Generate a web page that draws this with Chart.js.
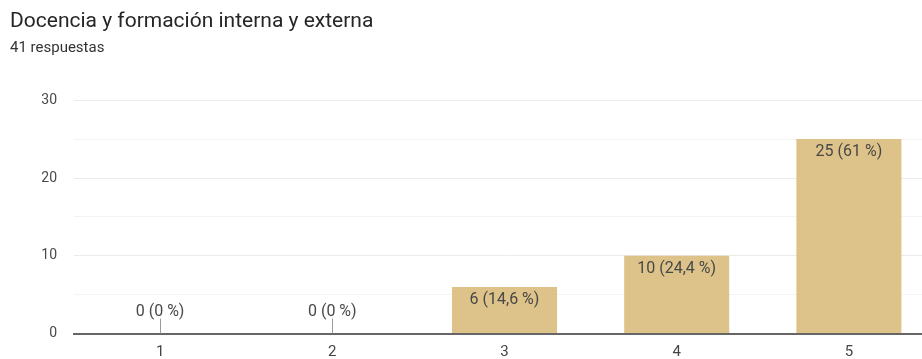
<!DOCTYPE html>
<html lang="es">
<head>
<meta charset="utf-8">
<title>Docencia y formación interna y externa</title>
<script src="https://cdn.jsdelivr.net/npm/chart.js@4/dist/chart.umd.min.js"></script>
<style>
  html, body { margin: 0; padding: 0; background: #fff; overflow: hidden; }
  #wrap { position: absolute; left: 0; top: 0; width: 936px; height: 359px; }
</style>
</head>
<body>
<div id="wrap"><canvas id="chart" width="936" height="359"></canvas></div>
<script>
// Survey question and answer counts
const chartTitle = 'Docencia y formación interna y externa';
const responseCount = 41;
const categories = ['1', '2', '3', '4', '5'];
const answers = [0, 0, 6, 10, 25];
const yTicks = [0, 10, 20, 30];

const BAR_COLOR = 'rgb(221,194,138)';
const FONT = 'Roboto, "Noto Sans", Arial, sans-serif';

// "25 (61 %)" style label, Spanish decimal comma
function valueLabel(v) {
  const pct = Math.round(v / responseCount * 1000) / 10;
  return v + ' (' + String(pct).replace('.', ',') + ' %)';
}

// Draws the count/percentage label inside each bar; zero bars get a small stem and a label above it
const barLabels = {
  id: 'barLabels',
  afterDatasetsDraw(chart) {
    const ctx = chart.ctx;
    const meta = chart.getDatasetMeta(0);
    ctx.save();
    ctx.font = '16px ' + FONT;
    ctx.fillStyle = '#484848';
    ctx.textAlign = 'center';
    ctx.textBaseline = 'middle';
    meta.data.forEach((bar, i) => {
      const v = answers[i];
      const text = valueLabel(v);
      if (v === 0) {
        ctx.strokeStyle = '#9a9a9a';
        ctx.lineWidth = 1;
        ctx.beginPath();
        ctx.moveTo(Math.round(bar.x) + 0.5, bar.base);
        ctx.lineTo(Math.round(bar.x) + 0.5, bar.base - 15);
        ctx.stroke();
        ctx.fillText(text, bar.x, bar.base - 22);
      } else {
        ctx.fillText(text, bar.x, bar.y + 13);
      }
    });
    ctx.restore();
  }
};

new Chart(document.getElementById('chart'), {
  type: 'bar',
  data: {
    labels: categories,
    datasets: [{
      data: answers,
      backgroundColor: BAR_COLOR,
      borderWidth: 0,
      categoryPercentage: 1,
      barPercentage: 0.61
    }]
  },
  options: {
    responsive: false,
    animation: false,
    devicePixelRatio: 1,
    layout: { padding: { left: 10, right: 1, top: 0, bottom: 0 } },
    plugins: {
      legend: { display: false },
      tooltip: { enabled: false },
      title: {
        display: true,
        text: chartTitle,
        align: 'start',
        color: '#262626',
        font: { family: FONT, size: 21, weight: 'normal', lineHeight: 1.2 },
        padding: { top: 9, bottom: 5 }
      },
      subtitle: {
        display: true,
        text: responseCount + ' respuestas',
        align: 'start',
        color: '#333',
        font: { family: FONT, size: 15, weight: 'normal', lineHeight: 1.2 },
        padding: { top: 0, bottom: 43 }
      }
    },
    scales: {
      x: {
        afterFit(scale) { scale.height = 25; },
        grid: { display: false, drawTicks: false },
        border: { display: true, color: '#666', width: 2 },
        ticks: { color: '#444', font: { family: FONT, size: 15 }, padding: 10 }
      },
      y: {
        min: 0,
        max: 30,
        afterFit(scale) { scale.width = 64; },
        border: { display: false },
        grid: {
          drawTicks: false,
          color: c => c.tick.value === 0 ? 'rgba(0,0,0,0)' : (c.tick.value % 10 === 0 ? '#ebebeb' : '#f3f3f3'),
          lineWidth: 1
        },
        ticks: {
          stepSize: 5,
          padding: 17,
          color: '#4a4a4a',
          font: { family: FONT, size: 14 },
          callback: v => yTicks.includes(v) ? String(v) : ''
        }
      }
    }
  },
  plugins: [barLabels]
});
</script>
</body>
</html>
